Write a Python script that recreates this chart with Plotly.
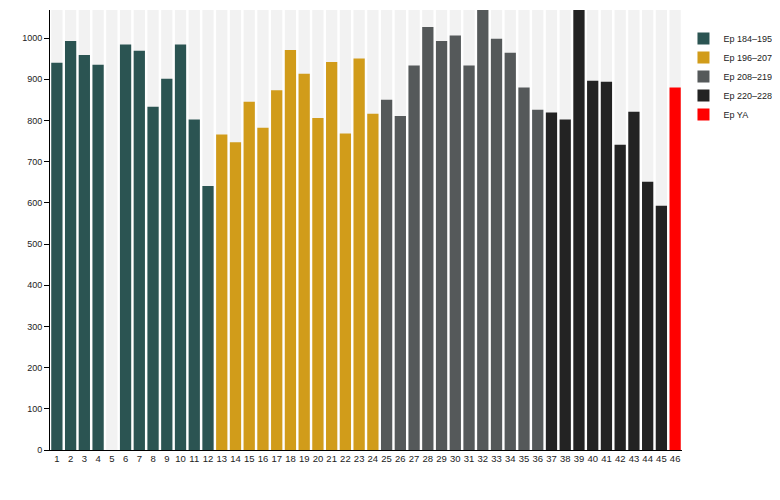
import plotly.graph_objects as go

episodes = list(range(1, 47))
values = [940, 993, 959, 935, None, 984, 969, 833, 901, 984, 802, 641,
          766, 747, 845, 782, 873, 971, 913, 806, 942, 768, 950, 816,
          850, 811, 933, 1027, 993, 1006, 933, 1080, 998, 964, 880, 826,
          819, 802, 1075, 896, 894, 741, 821, 651, 593, 880]
groups = ["Ep 184\u2013195"] * 12 + ["Ep 196\u2013207"] * 12 + ["Ep 208\u2013219"] * 12 + \
         ["Ep 220\u2013228"] * 9 + ["Ep YA"]
group_names = ["Ep 184\u2013195", "Ep 196\u2013207", "Ep 208\u2013219", "Ep 220\u2013228", "Ep YA"]
group_colors = ["#2b5452", "#d19c1a", "#55595a", "#232323", "#ff0000"]
y_max = 1068

fig = go.Figure()
fig.add_trace(go.Bar(x=episodes, y=[y_max] * len(episodes), marker_color="#f2f2f2",
                     marker_line_width=0, showlegend=False, hoverinfo="skip"))
for name, color in zip(group_names, group_colors):
    xs = [e for e, g in zip(episodes, groups) if g == name]
    ys = [v for v, g in zip(values, groups) if g == name]
    fig.add_trace(go.Bar(x=xs, y=ys, name=name, marker_color=color, marker_line_width=0))

fig.update_layout(
    width=780, height=500,
    margin=dict(l=42, r=106, t=2, b=58),
    barmode="overlay", bargap=0.18,
    plot_bgcolor="white", paper_bgcolor="white",
    font=dict(family="Liberation Sans, Arial, sans-serif", size=9, color="#222"),
    legend=dict(xref="container", yref="container", x=0.866, y=0.968,
                xanchor="left", yanchor="top",
                font=dict(size=9), tracegroupgap=0, itemsizing="constant"),
    xaxis=dict(tickmode="array", tickvals=episodes, ticktext=[str(e) for e in episodes],
               range=[0.5, 46.5], showgrid=False, showline=True, linecolor="black",
               linewidth=1, ticks="", zeroline=False, tickangle=0, automargin=False,
               tickfont=dict(size=9.5)),
    yaxis=dict(range=[0, y_max], tickvals=list(range(0, 1001, 100)), showgrid=False,
               showline=True, linecolor="black", linewidth=1, ticks="outside",
               ticklen=5, tickcolor="black", zeroline=False, automargin=False,
               tickfont=dict(size=9)),
)

fig.write_html("out.html")
